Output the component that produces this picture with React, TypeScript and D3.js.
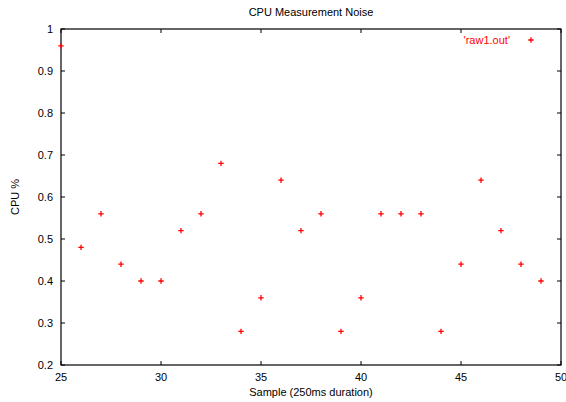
import React from "react";
import * as d3 from "d3";

const samples = [25, 26, 27, 28, 29, 30, 31, 32, 33, 34, 35, 36, 37, 38, 39, 40, 41, 42, 43, 44, 45, 46, 47, 48, 49];
const cpuValues = [0.96, 0.48, 0.56, 0.44, 0.40, 0.40, 0.52, 0.56, 0.68, 0.28, 0.36, 0.64, 0.52, 0.56, 0.28, 0.36, 0.56, 0.56, 0.56, 0.28, 0.44, 0.64, 0.52, 0.44, 0.40];
const xTicks = [25, 30, 35, 40, 45, 50];
const yTicks = [0.2, 0.3, 0.4, 0.5, 0.6, 0.7, 0.8, 0.9, 1];
const seriesName = "'raw1.out'";

const W = 566;
const H = 402;
const margin = { left: 61, right: 5, top: 29, bottom: 37 };
const font = "'Liberation Sans', Arial, sans-serif";

export default function App() {
  const x = d3.scaleLinear().domain([25, 50]).range([margin.left, W - margin.right]);
  const y = d3.scaleLinear().domain([0.2, 1]).range([H - margin.bottom, margin.top]);
  const [x0, x1] = x.range();
  const [y0, y1] = y.range();
  const tick = 4;
  const m = 2.7;
  const plus = (cx: number, cy: number, key: string) => (
    <path key={key} d={`M${cx - m},${cy}H${cx + m}M${cx},${cy - m}V${cy + m}`} stroke="#ff0000" strokeWidth={1.3} fill="none" />
  );
  const fmt = (v: number) => (v === 1 ? "1" : d3.format(".1f")(v));

  return (
    <svg width={W} height={H} style={{ position: "absolute", left: 0, top: 0, background: "#fff" }} fontFamily={font}>
      <text x={(x0 + x1) / 2} y={16} textAnchor="middle" fontSize={11} fill="#000">CPU Measurement Noise</text>
      {xTicks.map((t) => (
        <g key={`x${t}`}>
          <line x1={x(t)} x2={x(t)} y1={y0} y2={y0 - tick} stroke="#000" />
          <line x1={x(t)} x2={x(t)} y1={y1} y2={y1 + tick} stroke="#000" />
          <text x={x(t)} y={y0 + 16} textAnchor="middle" fontSize={11} fill="#000">{t}</text>
        </g>
      ))}
      {yTicks.map((t) => (
        <g key={`y${t}`}>
          <line x1={x0} x2={x0 + tick} y1={y(t)} y2={y(t)} stroke="#000" />
          <line x1={x1} x2={x1 - tick} y1={y(t)} y2={y(t)} stroke="#000" />
          <text x={x0 - 8} y={y(t) + 4} textAnchor="end" fontSize={11} fill="#000">{fmt(t)}</text>
        </g>
      ))}
      <rect x={x0} y={y1} width={x1 - x0} height={y0 - y1} fill="none" stroke="#000" strokeWidth={1.2} />
      {samples.map((s, i) => plus(x(s), y(cpuValues[i]), `p${i}`))}
      <text x={510} y={44} textAnchor="end" fontSize={11} fill="#ff0000">{seriesName}</text>
      {plus(531, 40, "legend")}
      <text x={(x0 + x1) / 2} y={396} textAnchor="middle" fontSize={11} fill="#000">Sample (250ms duration)</text>
      <text transform={`translate(19,${(y0 + y1) / 2}) rotate(-90)`} textAnchor="middle" fontSize={11} fill="#000">CPU %</text>
    </svg>
  );
}
